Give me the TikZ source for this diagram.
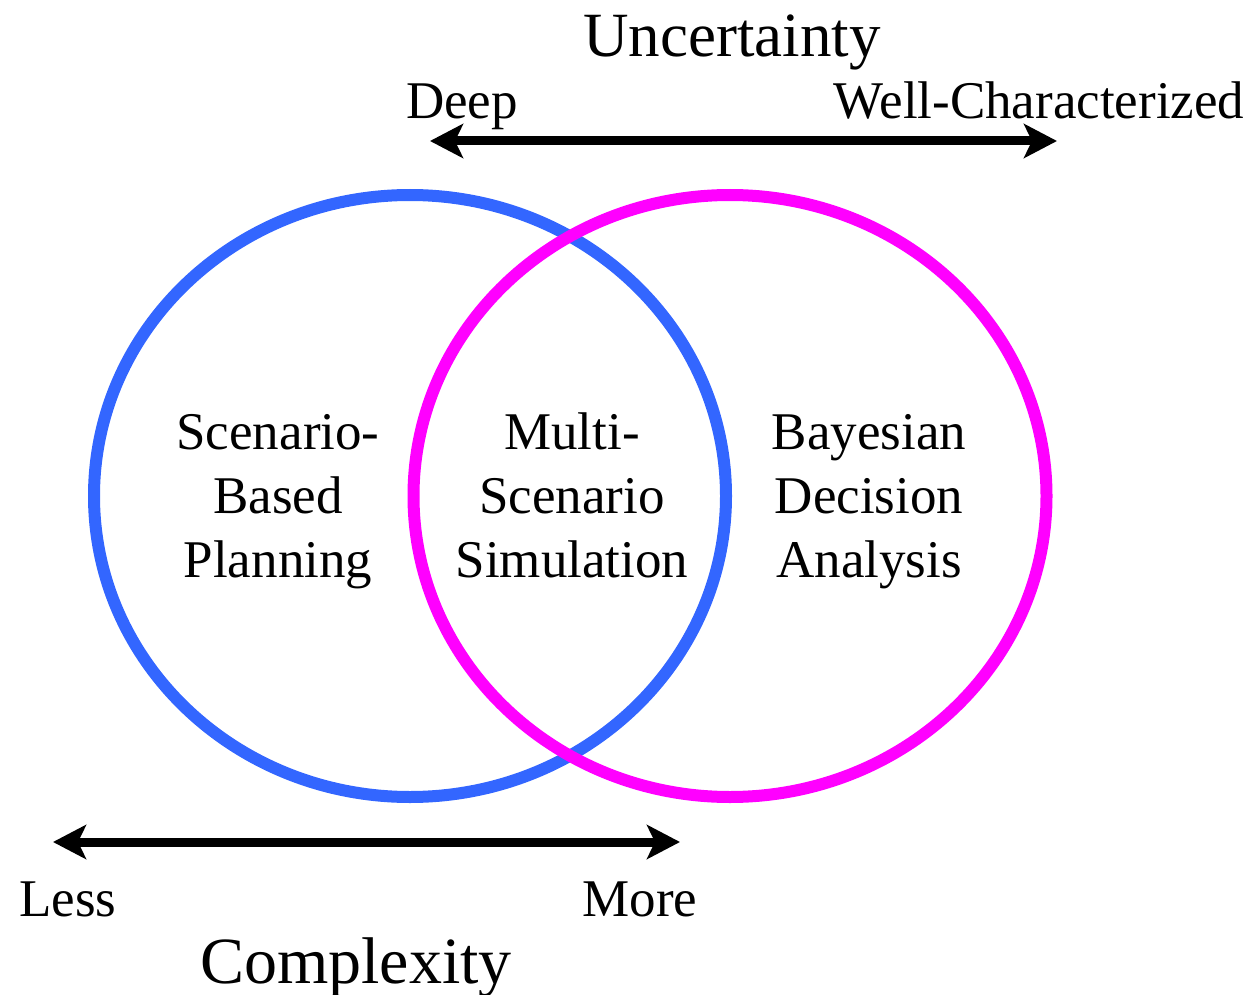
\documentclass[tikz,border=0pt]{standalone}
\usepackage{fontspec}
\setmainfont{Liberation Serif}
\usetikzlibrary{shapes.geometric,arrows.meta}
\definecolor{vblue}{HTML}{3366FF}
\definecolor{vmag}{HTML}{FF00FF}
\tikzset{
  setring/.style={draw, shape=ellipse, line width=12pt, inner sep=0pt,
    minimum width=632pt, minimum height=602pt},
  label/.style={font=\fontsize{53}{64}\selectfont, inner sep=0pt, anchor=base},
  body/.style={font=\fontsize{53}{64}\selectfont, inner sep=0pt, align=center, anchor=base},
  title/.style={font=\fontsize{63}{70}\selectfont, inner sep=0pt, anchor=base},
  axisarrow/.style={line width=9pt, {Stealth[length=33pt,width=34pt,inset=8pt]}-{Stealth[length=33pt,width=34pt,inset=8pt]}}
}
\begin{document}
\begin{tikzpicture}[x=1pt,y=-1pt]
\useasboundingbox (0,0) rectangle (1253,995);
\node[setring, vblue] (blue) at (410,496) {};
\node[setring, vmag, minimum width=633pt] (mag) at (730,496) {};
\node[title] (unc) at (732,57) {Uncertainty};
\node[label] (deep) at (462,119) {Deep};
\node[label] (well) at (1039,119) {Well-Characterized};
\coordinate (tl) at (430,141);
\coordinate (tr) at (1057,141);
\draw[axisarrow] (tl) -- (tr);
\node[body] (sbp) at (278,577) {Scenario-\\Based\\Planning};
\node[body] (mss) at (572,577) {Multi-\\Scenario\\Simulation};
\node[body] (bda) at (869,577) {Bayesian\\Decision\\Analysis};
\coordinate (bl) at (53,842);
\coordinate (br) at (680,842);
\draw[axisarrow] (bl) -- (br);
\node[label] (less) at (68,916) {Less};
\node[label] (more) at (640,916) {More};
\node[title, font=\fontsize{66}{72}\selectfont] (cplx) at (356,983) {Complexity};
\end{tikzpicture}
\end{document}
